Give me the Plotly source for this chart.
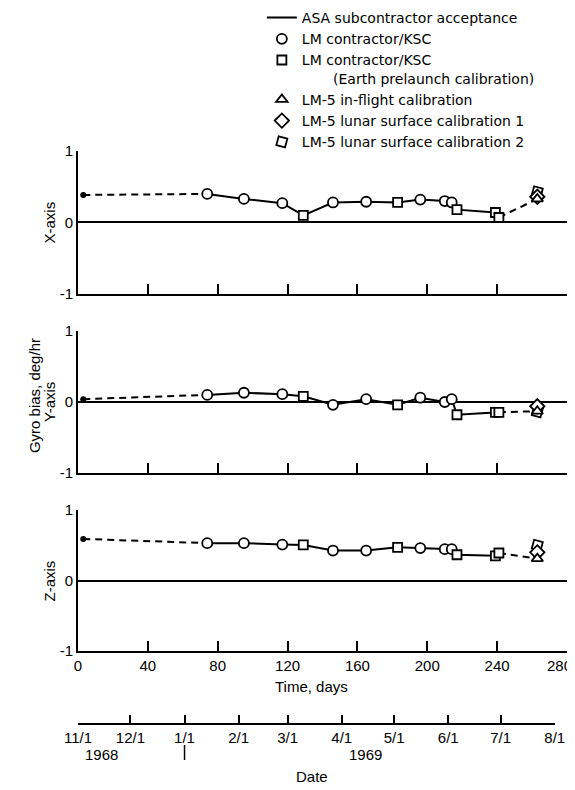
import plotly.graph_objects as go

# ---------------- data ----------------
circle_days = [74, 95, 117, 146, 165, 196, 210, 214]
square_days = [129, 183, 217, 239, 241]
asa_day = 3
flight_day = 263

x_circle = [0.40, 0.33, 0.27, 0.28, 0.29, 0.32, 0.30, 0.28]
x_square = [0.10, 0.28, 0.18, 0.14, 0.07]
x_asa = 0.385
x_inflight, x_lunar1, x_lunar2 = 0.33, 0.36, 0.43

y_circle = [0.10, 0.13, 0.11, -0.04, 0.04, 0.06, 0.00, 0.04]
y_square = [0.08, -0.04, -0.18, -0.145, -0.145]
y_asa = 0.04
y_inflight, y_lunar1, y_lunar2 = -0.13, -0.06, -0.14

z_circle = [0.53, 0.53, 0.51, 0.425, 0.425, 0.46, 0.445, 0.445]
z_square = [0.505, 0.47, 0.365, 0.35, 0.39]
z_asa = 0.59
z_inflight, z_lunar1, z_lunar2 = 0.31, 0.40, 0.50

panel_names = ["X-axis", "Y-axis", "Z-axis"]
day_ticks = [0, 40, 80, 120, 160, 200, 240, 280]
day_tick_labels = ["0", "40", "80", "120", "160", "200", "240", ""]
last_day_label = "280"
date_tick_days = [0, 30, 61, 92, 120, 151, 181, 212, 242, 273]
date_tick_labels = ["11/1", "12/1", "1/1", "2/1", "3/1", "4/1", "5/1", "6/1", "7/1", "8/1"]
year_labels = ["1968", "1969"]

names = {
    "asa": "ASA subcontractor acceptance",
    "circ": "LM contractor/KSC",
    "sq": "LM contractor/KSC<br>" + "\u00a0" * 7 + "(Earth prelaunch calibration)",
    "tri": "LM-5 in-flight calibration",
    "dia": "LM-5 lunar surface calibration 1",
    "lun2": "LM-5 lunar surface calibration 2",
}

FONT = "Liberation Sans, Arial, sans-serif"
LEGFONT = "DejaVu Sans, Liberation Sans, sans-serif"
panels = [
    (x_circle, x_square, x_asa, x_inflight, x_lunar1, x_lunar2),
    (y_circle, y_square, y_asa, y_inflight, y_lunar1, y_lunar2),
    (z_circle, z_square, z_asa, z_inflight, z_lunar1, z_lunar2),
]
domains = [[0.7491, 0.9983], [0.4373, 0.6847], [0.1272, 0.3728]]

fig = go.Figure()

# legend-only line entry
fig.add_trace(go.Scatter(x=[None], y=[None], mode="lines", name=names["asa"],
                         line=dict(color="black", width=2), legendrank=1))

for i, (circ, sq, asa, infl, lun1, lun2) in enumerate(panels):
    xa = "x" if i == 0 else f"x{i+1}"
    ya = "y" if i == 0 else f"y{i+1}"
    show = i == 0
    pts = sorted(zip(circle_days + square_days, circ + sq))
    fig.add_trace(go.Scatter(x=[p[0] for p in pts], y=[p[1] for p in pts], mode="lines",
                             line=dict(color="black", width=2), xaxis=xa, yaxis=ya,
                             showlegend=False, hoverinfo="skip"))
    fig.add_trace(go.Scatter(x=[asa_day, circle_days[0], None, square_days[-1], flight_day],
                             y=[asa, circ[0], None, sq[-1], infl], mode="lines",
                             line=dict(color="black", width=2, dash="7px,5px"),
                             xaxis=xa, yaxis=ya, showlegend=False, hoverinfo="skip"))
    fig.add_trace(go.Scatter(x=[asa_day], y=[asa], mode="markers",
                             marker=dict(symbol="circle", size=6, color="black"),
                             xaxis=xa, yaxis=ya, showlegend=False))
    mk = dict(color="white", line=dict(color="black", width=1.8))
    fig.add_trace(go.Scatter(x=circle_days, y=circ, mode="markers", name=names["circ"],
                             marker=dict(symbol="circle", size=10, **mk),
                             xaxis=xa, yaxis=ya, showlegend=show, legendrank=2))
    fig.add_trace(go.Scatter(x=square_days, y=sq, mode="markers", name=names["sq"],
                             marker=dict(symbol="square", size=9, **mk),
                             xaxis=xa, yaxis=ya, showlegend=show, legendrank=3))
    fig.add_trace(go.Scatter(x=[flight_day], y=[lun2], mode="markers", name=names["lun2"],
                             marker=dict(symbol="square", size=9, angle=15, **mk),
                             xaxis=xa, yaxis=ya, showlegend=show, legendrank=6))
    fig.add_trace(go.Scatter(x=[flight_day], y=[lun1], mode="markers", name=names["dia"],
                             marker=dict(symbol="diamond", size=11, **mk),
                             xaxis=xa, yaxis=ya, showlegend=show, legendrank=5))
    fig.add_trace(go.Scatter(x=[flight_day], y=[infl], mode="markers", name=names["tri"],
                             marker=dict(symbol="triangle-up", size=10, **mk),
                             xaxis=xa, yaxis=ya, showlegend=show, legendrank=4))

# invisible trace to carry the date axis
fig.add_trace(go.Scatter(x=[0], y=[0], mode="markers", marker=dict(opacity=0),
                         xaxis="x4", yaxis="y3", showlegend=False, hoverinfo="skip"))

# page has an 8px body margin, so the figure is drawn 8px smaller
tickfont = dict(family=FONT, size=15, color="black")
layout = dict(
    width=567, height=782,
    margin=dict(l=70, r=8, t=142, b=66, autoexpand=False),
    paper_bgcolor="white", plot_bgcolor="rgba(0,0,0,0)",
    font=dict(family=FONT, color="black"),
    legend=dict(x=0.376, y=1.2578, xanchor="left", yanchor="top",
                font=dict(family=LEGFONT, size=14, color="black"),
                itemwidth=30, tracegroupgap=0, valign="top",
                bgcolor="rgba(0,0,0,0)"),
    annotations=[],
    shapes=[],
)
for i in range(3):
    xk = "xaxis" if i == 0 else f"xaxis{i+1}"
    yk = "yaxis" if i == 0 else f"yaxis{i+1}"
    ya = "y" if i == 0 else f"y{i+1}"
    xa = "x" if i == 0 else f"x{i+1}"
    layout[xk] = dict(domain=[0, 1], range=[0, 280], anchor=ya, tickvals=day_ticks,
                      ticktext=day_tick_labels,
                      ticks="inside", ticklen=10, tickwidth=1.5, tickcolor="black",
                      showline=True, linewidth=2, linecolor="black", showgrid=False,
                      zeroline=False, showticklabels=(i == 2), tickfont=tickfont)
    layout[yk] = dict(domain=domains[i], range=[-1, 1], anchor=xa, tickvals=[-1, 0, 1],
                      ticktext=["-1", "0", "1"], ticks="inside", ticklen=6, tickwidth=1.5,
                      tickcolor="black", showline=True, linewidth=2, linecolor="black",
                      showgrid=False, zeroline=True, zerolinecolor="black",
                      zerolinewidth=1.5, tickfont=tickfont)
    layout["annotations"].append(dict(text=panel_names[i], xref="paper", yref=ya, x=-0.0573,
                                      y=0, xanchor="center", yanchor="middle", textangle=-90,
                                      showarrow=False, font=dict(family=FONT, size=15)))

layout["xaxis4"] = dict(domain=[0, 273 / 280], range=[0, 273], anchor="free", position=0,
                        tickvals=date_tick_days, ticktext=date_tick_labels,
                        ticks="inside", ticklen=8, tickwidth=1.5, tickcolor="black",
                        showline=True, linewidth=1.5, linecolor="black", showgrid=False,
                        zeroline=False, tickfont=tickfont)

ann = layout["annotations"]
ann.append(dict(text=last_day_label, xref="paper", yref="paper", x=1.0143, y=0.1272,
                xanchor="right", yanchor="top", yshift=-4, showarrow=False,
                font=dict(family=FONT, size=15)))
ann.append(dict(text="Gyro bias, deg/hr", xref="paper", yref="paper", x=-0.0900, y=0.573,
                xanchor="center", yanchor="middle", textangle=-90, showarrow=False,
                font=dict(family=FONT, size=15)))
ann.append(dict(text="Time, days", xref="paper", yref="paper", x=0.4785, y=0.0662,
                xanchor="center", yanchor="middle", showarrow=False,
                font=dict(family=FONT, size=15)))
ann.append(dict(text="Date", xref="paper", yref="paper", x=0.4785, y=-0.0923,
                xanchor="center", yanchor="middle", showarrow=False,
                font=dict(family=FONT, size=15)))
ann.append(dict(text=year_labels[0], xref="paper", yref="paper", x=0.049, y=-0.0523,
                xanchor="center", yanchor="middle", showarrow=False,
                font=dict(family=FONT, size=15)))
ann.append(dict(text=year_labels[1], xref="paper", yref="paper", x=0.587, y=-0.0523,
                xanchor="center", yanchor="middle", showarrow=False,
                font=dict(family=FONT, size=15)))
layout["shapes"].append(dict(type="line", xref="x4", yref="paper",
                             x0=date_tick_days[2], x1=date_tick_days[2],
                             y0=-0.0366, y1=-0.0627, line=dict(color="black", width=1.5)))

fig.update_layout(**layout)
fig.write_html("out.html")
